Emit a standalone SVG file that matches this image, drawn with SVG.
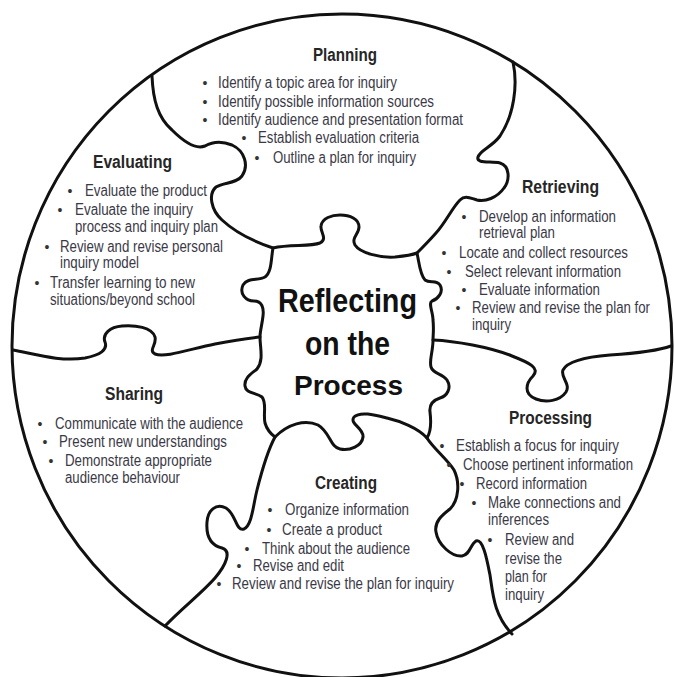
<svg xmlns="http://www.w3.org/2000/svg" width="674" height="677" viewBox="0 0 674 677">
  <style>
    .edge { fill: none; stroke: #111; stroke-width: 3; stroke-linecap: round; stroke-linejoin: round; }
    .t { font-family: "Liberation Sans Narrow", "Arial Narrow", "Liberation Sans", Arial, sans-serif; font-size: 16px; fill: #3a3946; }
    .h { font-family: "Liberation Sans Narrow", "Arial Narrow", "Liberation Sans", Arial, sans-serif; font-size: 17.5px; font-weight: bold; fill: #262626; }
    .dot { font-family: "Liberation Sans", Arial, sans-serif; font-size: 14px; fill: #333; text-anchor: middle; }
    .c { font-family: "Liberation Sans Narrow", "Arial Narrow", "Liberation Sans", Arial, sans-serif; font-weight: bold; fill: #111; }
  </style>
  <rect width="674" height="677" fill="#fff"/>

  <!-- puzzle outlines -->
  <g id="connectors">
    <ellipse class="edge" cx="342" cy="346" rx="330" ry="332"/>
    <!-- Planning / Evaluating -->
    <path class="edge" d="M152,76 C153,100 158,118 172,130 C182,140 195,150 205,146 C212,142 222,141 232,145 C245,151 249,166 242,176 C236,184 224,182 216,187 C208,194 211,210 222,220 C236,233 255,242 273,248"/>
    <!-- Planning / Retrieving -->
    <path class="edge" d="M513,62 C518,85 514,115 500,136 C492,147 480,150 478,157 C476,164 490,161 500,163 C510,166 510,180 504,188 C497,198 485,202 477,200 C470,198 465,195 460,200 C452,208 446,222 436,233 C428,242 422,248 417,253"/>
    <!-- Evaluating / Sharing -->
    <path class="edge" d="M13,350 C35,354 60,362 85,358 C100,355 108,350 105,342 C102,334 110,327 122,326 C135,325 152,327 155,337 C157,345 148,350 155,354 C165,358 190,349 215,344 C235,340 250,338 260,337"/>
    <!-- Retrieving / Processing -->
    <path class="edge" d="M433,340 C455,341 490,347 512,356 C530,363 540,368 533,376 C526,383 523,394 536,399 C546,403 560,401 566,392 C571,384 560,377 563,370 C567,362 585,357 610,355 C640,353 660,350 671,346"/>
    <!-- Sharing / Creating -->
    <path class="edge" d="M275,437 C268,450 262,470 257,490 C253,506 252,525 244,529 C236,532 236,514 226,508 C216,503 208,510 207,522 C206,535 210,545 222,548 C232,551 226,565 215,578 C202,593 182,608 165,626"/>
    <!-- Creating / Processing -->
    <path class="edge" d="M427,438 C433,448 448,460 454,470 C460,482 459,500 450,509 C442,515 434,522 436,532 C438,545 452,557 462,556 C470,555 470,545 476,541 C483,538 487,560 490,575 C493,595 494,615 512,634"/>
    <!-- centre piece -->
    <path class="edge" d="M273,248 C290,244 310,247 320,243 C328,239 320,232 321,226 C322,218 332,215 340,215 C350,215 359,219 359,227 C359,234 351,238 355,245 C360,253 380,258 395,257 C405,256 412,255 417,253
      C419,262 420,275 425,280 C430,284 436,279 440,285 C444,292 438,299 432,301 C428,303 433,312 433,320 C434,330 433,335 433,340 C433,352 429,360 431,367 C433,374 442,373 447,380 C452,388 447,396 440,398 C434,400 429,404 430,412 C431,420 432,430 427,438
      C418,428 400,421 387,418 C375,415 360,411 354,417 C349,424 364,428 363,437 C362,446 350,451 340,449 C330,447 330,432 318,425 C305,419 288,424 275,437
      C271,434 267,430 265,423 C263,414 267,403 262,397 C256,392 246,394 245,386 C244,378 251,374 257,369 C264,360 260,348 260,337 C260,331 262,325 263,316 C264,308 262,301 254,301 C246,301 239,294 243,285 C248,277 258,281 265,277 C272,272 271,258 273,248 Z"/>
  </g>

  <g id="centre">
    <text class="c" x="278" y="312" font-size="33" textLength="139" lengthAdjust="spacingAndGlyphs">Reflecting</text>
    <text class="c" x="305" y="355" font-size="33" textLength="85" lengthAdjust="spacingAndGlyphs">on the</text>
    <text class="c" x="294" y="395" font-size="28" textLength="109" lengthAdjust="spacingAndGlyphs">Process</text>
  </g>

  <g id="planning">
    <text class="h" x="313" y="61" textLength="64" lengthAdjust="spacingAndGlyphs">Planning</text>
    <text class="dot" x="205" y="88">•</text>
    <text class="t" x="218" y="88" textLength="179" lengthAdjust="spacingAndGlyphs">Identify a topic area for inquiry</text>
    <text class="dot" x="205" y="107">•</text>
    <text class="t" x="218" y="107" textLength="216" lengthAdjust="spacingAndGlyphs">Identify possible information sources</text>
    <text class="dot" x="205" y="125">•</text>
    <text class="t" x="218" y="125" textLength="245" lengthAdjust="spacingAndGlyphs">Identify audience and presentation format</text>
    <text class="dot" x="244" y="143">•</text>
    <text class="t" x="258" y="143" textLength="161" lengthAdjust="spacingAndGlyphs">Establish evaluation criteria</text>
    <text class="dot" x="257" y="163">•</text>
    <text class="t" x="273" y="163" textLength="143" lengthAdjust="spacingAndGlyphs">Outline a plan for inquiry</text>
  </g>

  <g id="evaluating">
    <text class="h" x="93" y="168" textLength="79" lengthAdjust="spacingAndGlyphs">Evaluating</text>
    <text class="dot" x="70" y="196">•</text>
    <text class="t" x="85" y="196" textLength="122" lengthAdjust="spacingAndGlyphs">Evaluate the product</text>
    <text class="dot" x="60" y="215">•</text>
    <text class="t" x="75" y="215" textLength="118" lengthAdjust="spacingAndGlyphs">Evaluate the inquiry</text>
    <text class="t" x="75" y="232" textLength="143" lengthAdjust="spacingAndGlyphs">process and inquiry plan</text>
    <text class="dot" x="47" y="252">•</text>
    <text class="t" x="60" y="252" textLength="163" lengthAdjust="spacingAndGlyphs">Review and revise personal</text>
    <text class="t" x="60" y="268" textLength="79" lengthAdjust="spacingAndGlyphs">inquiry model</text>
    <text class="dot" x="37" y="288">•</text>
    <text class="t" x="50" y="288" textLength="145" lengthAdjust="spacingAndGlyphs">Transfer learning to new</text>
    <text class="t" x="50" y="305" textLength="145" lengthAdjust="spacingAndGlyphs">situations/beyond school</text>
  </g>

  <g id="retrieving">
    <text class="h" x="522" y="193" textLength="77" lengthAdjust="spacingAndGlyphs">Retrieving</text>
    <text class="dot" x="464" y="222">•</text>
    <text class="t" x="479" y="222" textLength="137" lengthAdjust="spacingAndGlyphs">Develop an information</text>
    <text class="t" x="479" y="238" textLength="76" lengthAdjust="spacingAndGlyphs">retrieval plan</text>
    <text class="dot" x="444" y="258">•</text>
    <text class="t" x="459" y="258" textLength="169" lengthAdjust="spacingAndGlyphs">Locate and collect resources</text>
    <text class="dot" x="449" y="277">•</text>
    <text class="t" x="465" y="277" textLength="156" lengthAdjust="spacingAndGlyphs">Select relevant information</text>
    <text class="dot" x="464" y="295">•</text>
    <text class="t" x="479" y="295" textLength="121" lengthAdjust="spacingAndGlyphs">Evaluate information</text>
    <text class="dot" x="458" y="313">•</text>
    <text class="t" x="472" y="313" textLength="178" lengthAdjust="spacingAndGlyphs">Review and revise the plan for</text>
    <text class="t" x="472" y="330" textLength="39" lengthAdjust="spacingAndGlyphs">inquiry</text>
  </g>

  <g id="sharing">
    <text class="h" x="105" y="400" textLength="58" lengthAdjust="spacingAndGlyphs">Sharing</text>
    <text class="dot" x="40" y="429">•</text>
    <text class="t" x="55" y="429" textLength="188" lengthAdjust="spacingAndGlyphs">Communicate with the audience</text>
    <text class="dot" x="45" y="447">•</text>
    <text class="t" x="59" y="447" textLength="168" lengthAdjust="spacingAndGlyphs">Present new understandings</text>
    <text class="dot" x="51" y="466">•</text>
    <text class="t" x="65" y="466" textLength="147" lengthAdjust="spacingAndGlyphs">Demonstrate appropriate</text>
    <text class="t" x="65" y="483" textLength="115" lengthAdjust="spacingAndGlyphs">audience behaviour</text>
  </g>

  <g id="creating">
    <text class="h" x="315" y="489" textLength="62" lengthAdjust="spacingAndGlyphs">Creating</text>
    <text class="dot" x="270" y="515">•</text>
    <text class="t" x="285" y="515" textLength="124" lengthAdjust="spacingAndGlyphs">Organize information</text>
    <text class="dot" x="269" y="535">•</text>
    <text class="t" x="282" y="535" textLength="100" lengthAdjust="spacingAndGlyphs">Create a product</text>
    <text class="dot" x="247" y="554">•</text>
    <text class="t" x="262" y="554" textLength="148" lengthAdjust="spacingAndGlyphs">Think about the audience</text>
    <text class="dot" x="239" y="571">•</text>
    <text class="t" x="253" y="571" textLength="91" lengthAdjust="spacingAndGlyphs">Revise and edit</text>
    <text class="dot" x="219" y="589">•</text>
    <text class="t" x="232" y="589" textLength="222" lengthAdjust="spacingAndGlyphs">Review and revise the plan for inquiry</text>
  </g>

  <g id="processing">
    <text class="h" x="509" y="424" textLength="83" lengthAdjust="spacingAndGlyphs">Processing</text>
    <text class="dot" x="442" y="451">•</text>
    <text class="t" x="456" y="451" textLength="163" lengthAdjust="spacingAndGlyphs">Establish a focus for inquiry</text>
    <text class="dot" x="449" y="470">•</text>
    <text class="t" x="463" y="470" textLength="170" lengthAdjust="spacingAndGlyphs">Choose pertinent information</text>
    <text class="dot" x="462" y="489">•</text>
    <text class="t" x="476" y="489" textLength="111" lengthAdjust="spacingAndGlyphs">Record information</text>
    <text class="dot" x="474" y="508">•</text>
    <text class="t" x="488" y="508" textLength="133" lengthAdjust="spacingAndGlyphs">Make connections and</text>
    <text class="t" x="488" y="525" textLength="61" lengthAdjust="spacingAndGlyphs">inferences</text>
    <text class="dot" x="490" y="545">•</text>
    <text class="t" x="505" y="545" textLength="69" lengthAdjust="spacingAndGlyphs">Review and</text>
    <text class="t" x="505" y="564" textLength="57" lengthAdjust="spacingAndGlyphs">revise the</text>
    <text class="t" x="505" y="582" textLength="42" lengthAdjust="spacingAndGlyphs">plan for</text>
    <text class="t" x="505" y="600" textLength="39" lengthAdjust="spacingAndGlyphs">inquiry</text>
  </g>
</svg>
